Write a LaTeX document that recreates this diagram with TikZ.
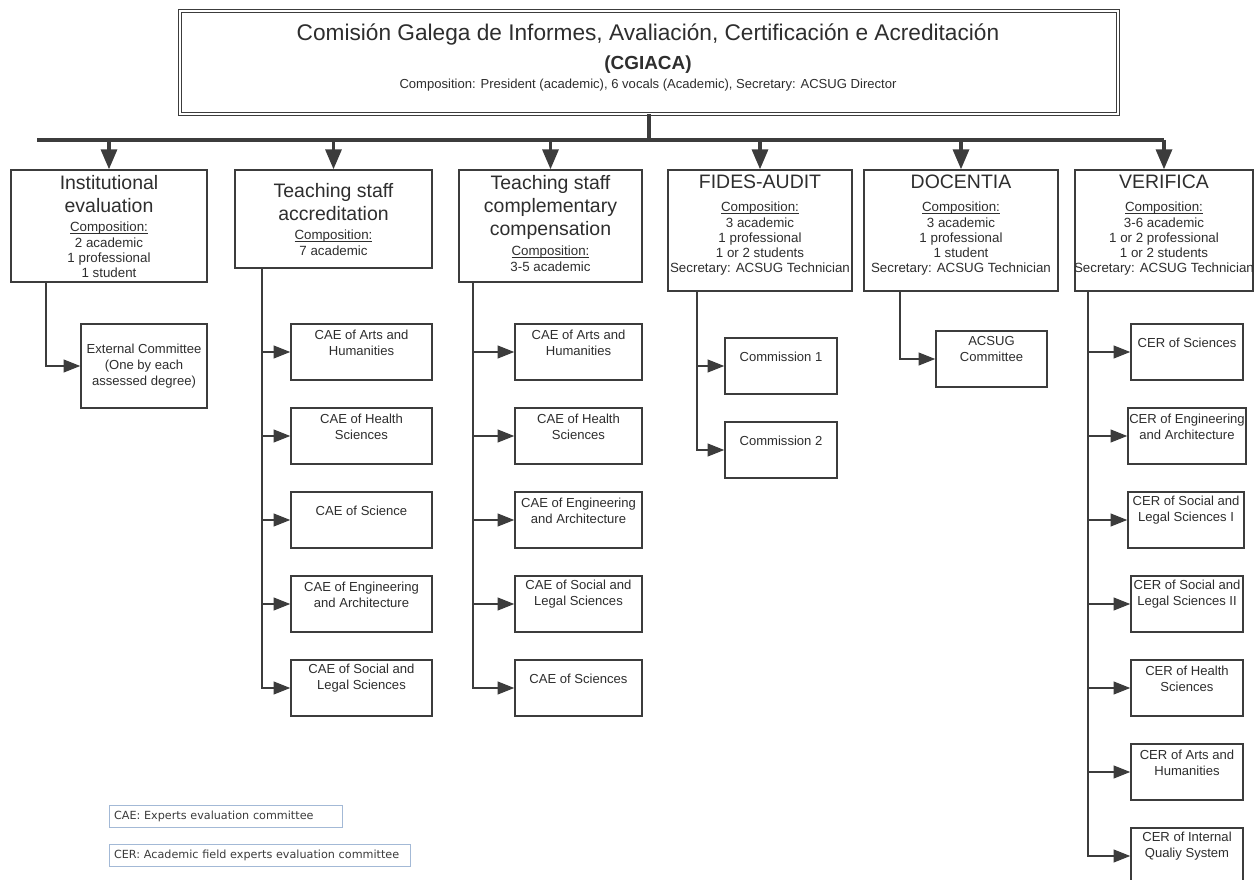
\documentclass[tikz,border=0pt]{standalone}
\usepackage{fontspec}
\setmainfont{Liberation Sans}
\newfontfamily\legfont{DejaVu Sans}
\usetikzlibrary{arrows.meta}
\definecolor{ln}{HTML}{3C3C3C}
\definecolor{txt}{HTML}{2E2E2E}
\definecolor{legbd}{HTML}{A3B9D6}
\definecolor{legtx}{HTML}{3A3A3A}
\newcommand\compul[1]{\setbox0\hbox{#1}\rlap{\rule[-1.6pt]{\wd0}{0.5pt}}#1}
\begin{document}
\begin{tikzpicture}[x=0.75pt,y=-0.75pt,
  box/.style={draw=ln,line width=1pt,fill=white,inner sep=0pt,rectangle},
  subbox/.style={box,minimum width=#1*0.75pt,minimum height=42pt},
  subtxt/.style={font=\fontsize{9.8pt}{12pt}\selectfont,text=txt,align=center,inner sep=0pt},
  htitle/.style={font=\fontsize{14.6pt}{17.25pt}\selectfont,text=txt,align=center,inner sep=0pt,anchor=north},
  hdet/.style={font=\fontsize{10pt}{11.4pt}\selectfont,text=txt,align=center,inner sep=0pt,anchor=north},
  bus/.style={draw=ln,line width=2.5pt},
  busarr/.style={draw=ln,line width=2.5pt,-{Triangle[length=15pt,width=12pt]}},
  stem/.style={draw=ln,line width=1.5pt},
  sarr/.style={draw=ln,line width=1.5pt,-{Triangle[length=12.5pt,width=9.5pt]}},
  legbox/.style={draw=legbd,line width=0.8pt,anchor=north west,inner xsep=3.4pt,inner ysep=0pt,minimum height=16.5pt,align=left,text=legtx,font=\legfont\fontsize{8.4pt}{10pt}\selectfont}
]
\useasboundingbox (0,0) rectangle (1258,880);

% ---------- top box ----------
\node[box,double=white,double distance=1.4pt,line width=0.9pt,minimum width=703pt,minimum height=77pt] (top) at (649,62.5) {};
\node[font=\fontsize{17pt}{20pt}\selectfont,text=txt,inner sep=0pt] (ttl) at (648,35) {Comisión Galega de Informes, Avaliación, Certificación e Acreditación};
\node[font=\bfseries\fontsize{14.2pt}{17pt}\selectfont,text=txt,inner sep=0pt] (abbr) at (648,65) {(CGIACA)};
\node[font=\fontsize{9.8pt}{12pt}\selectfont,text=txt,inner sep=0pt] (tcomp) at (648,85) {Composition: President (academic), 6 vocals (Academic), Secretary: ACSUG Director};

% ---------- header boxes ----------
\node[box,minimum width=147pt,minimum height=84pt] (h1) at (109,226) {};
\node[box,minimum width=147.75pt,minimum height=73.5pt] (h2) at (333.5,219) {};
\node[box,minimum width=137.25pt,minimum height=84pt] (h3) at (550.5,226) {};
\node[box,minimum width=138pt,minimum height=90.75pt] (h4) at (760,230.5) {};
\node[box,minimum width=145.5pt,minimum height=90.75pt] (h5) at (961,230.5) {};
\node[box,minimum width=133.5pt,minimum height=90.75pt] (h6) at (1164,230.5) {};

\node[htitle] (h1t) at (109,175) {Institutional\\evaluation};
\node[hdet] (h1d) at (109,222) {\compul{Composition:}\\2 academic\\1 professional\\1 student};
\node[htitle] (h2t) at (333.5,183) {Teaching staff\\accreditation};
\node[hdet] (h2d) at (333.5,230) {\compul{Composition:}\\7 academic};
\node[htitle] (h3t) at (550.5,175) {Teaching staff\\complementary\\compensation};
\node[hdet] (h3d) at (550.5,246) {\compul{Composition:}\\3-5 academic};
\node[htitle] (h4t) at (760,175) {FIDES-AUDIT};
\node[hdet] (h4d) at (760,202) {\compul{Composition:}\\3 academic\\1 professional\\1 or 2 students\\Secretary: ACSUG Technician};
\node[htitle] (h5t) at (961,175) {DOCENTIA};
\node[hdet] (h5d) at (961,202) {\compul{Composition:}\\3 academic\\1 professional\\1 student\\Secretary: ACSUG Technician};
\node[htitle] (h6t) at (1164,175) {VERIFICA};
\node[hdet] (h6d) at (1164,202) {\compul{Composition:}\\3-6 academic\\1 or 2 professional\\1 or 2 students\\Secretary: ACSUG Technician};

% ---------- bus ----------
\coordinate (busL) at (37,140);
\coordinate (busR) at (1164,140);
\draw[bus] (top.south) -- (top.south |- busL);
\draw[bus] (busL) -- (busR);
\foreach \h in {h1,h2,h3,h4,h5,h6}
  \draw[busarr] (\h.north |- busL) -- (\h.north);

% ---------- Institutional ----------
\node[box,minimum width=94.5pt,minimum height=63pt] (e1) at (144,366) {};
\node[subtxt] (e1t) at (e1.center) {External Committee\\(One by each\\assessed degree)};
\coordinate (s1) at (46,0);
\draw[sarr] (h1.south -| s1) |- (e1.west);

% ---------- Teaching staff accreditation ----------
\coordinate (s2) at (262,0);
\node[subbox=141] (a1) at (361.5,352) {};
\node[subbox=141] (a2) at (361.5,436) {};
\node[subbox=141] (a3) at (361.5,520) {};
\node[subbox=141] (a4) at (361.5,604) {};
\node[subbox=141] (a5) at (361.5,688) {};
\node[subtxt] (a1t) at ([yshift=-14.25pt]a1.north) {CAE of Arts and\\Humanities};
\node[subtxt] (a2t) at ([yshift=-14.25pt]a2.north) {CAE of Health\\Sciences};
\node[subtxt] (a3t) at ([yshift=-14.25pt]a3.north) {CAE of Science};
\node[subtxt] (a4t) at ([yshift=-14.25pt]a4.north) {CAE of Engineering\\and Architecture};
\node[subtxt] (a5t) at ([yshift=-14.25pt]a5.north) {CAE of Social and\\Legal Sciences};
\draw[sarr] (h2.south -| s2) |- (a5.west);
\foreach \b in {a1,a2,a3,a4}
  \draw[sarr] (\b.west -| s2) -- (\b.west);

% ---------- Teaching staff complementary compensation ----------
\coordinate (s3) at (473,0);
\node[subbox=127] (c1) at (578.5,352) {};
\node[subbox=127] (c2) at (578.5,436) {};
\node[subbox=127] (c3) at (578.5,520) {};
\node[subbox=127] (c4) at (578.5,604) {};
\node[subbox=127] (c5) at (578.5,688) {};
\node[subtxt] (c1t) at ([yshift=-14.25pt]c1.north) {CAE of Arts and\\Humanities};
\node[subtxt] (c2t) at ([yshift=-14.25pt]c2.north) {CAE of Health\\Sciences};
\node[subtxt] (c3t) at ([yshift=-14.25pt]c3.north) {CAE of Engineering\\and Architecture};
\node[subtxt] (c4t) at ([yshift=-14.25pt]c4.north) {CAE of Social and\\Legal Sciences};
\node[subtxt] (c5t) at ([yshift=-14.25pt]c5.north) {CAE of Sciences};
\draw[sarr] (h3.south -| s3) |- (c5.west);
\foreach \b in {c1,c2,c3,c4}
  \draw[sarr] (\b.west -| s3) -- (\b.west);

% ---------- FIDES-AUDIT ----------
\coordinate (s4) at (697,0);
\node[subbox=112] (f1) at (781,366) {};
\node[subbox=112] (f2) at (781,450) {};
\node[subtxt] (f1t) at ([yshift=-14.25pt]f1.north) {Commission 1};
\node[subtxt] (f2t) at ([yshift=-14.25pt]f2.north) {Commission 2};
\draw[sarr] (h4.south -| s4) |- (f2.west);
\draw[sarr] (f1.west -| s4) -- (f1.west);

% ---------- DOCENTIA ----------
\coordinate (s5) at (900,0);
\node[subbox=111] (d1) at (991.5,359) {};
\node[subtxt] (d1t) at ([yshift=-14.25pt]d1.north) {ACSUG\\Committee};
\draw[sarr] (h5.south -| s5) |- (d1.west);

% ---------- VERIFICA ----------
\coordinate (s6) at (1088,0);
\node[subbox=112] (v1) at (1187,352) {};
\node[subbox=118] (v2) at (1187,436) {};
\node[subbox=116] (v3) at (1186,520) {};
\node[subbox=112] (v4) at (1187,604) {};
\node[subbox=112] (v5) at (1187,688) {};
\node[subbox=112] (v6) at (1187,772) {};
\node[subbox=112] (v7) at (1187,856) {};
\node[subtxt] (v1t) at ([yshift=-14.25pt]v1.north) {CER of Sciences};
\node[subtxt] (v2t) at ([yshift=-14.25pt]v2.north) {CER of Engineering\\and Architecture};
\node[subtxt] (v3t) at ([yshift=-14.25pt]v3.north) {CER of Social and\\Legal Sciences I};
\node[subtxt] (v4t) at ([yshift=-14.25pt]v4.north) {CER of Social and\\Legal Sciences II};
\node[subtxt] (v5t) at ([yshift=-14.25pt]v5.north) {CER of Health\\Sciences};
\node[subtxt] (v6t) at ([yshift=-14.25pt]v6.north) {CER of Arts and\\Humanities};
\node[subtxt] (v7t) at ([yshift=-14.25pt]v7.north) {CER of Internal\\Qualiy System};
\draw[sarr] (h6.south -| s6) |- (v7.west);
\foreach \b in {v1,v2,v3,v4,v5,v6}
  \draw[sarr] (\b.west -| s6) -- (\b.west);

% ---------- legend ----------
\node[legbox,text width=168pt] (lg1) at (109,805) {CAE: Experts evaluation committee};
\node[legbox,text width=219pt] (lg2) at (109,844) {CER: Academic field experts evaluation committee};
\end{tikzpicture}
\end{document}
